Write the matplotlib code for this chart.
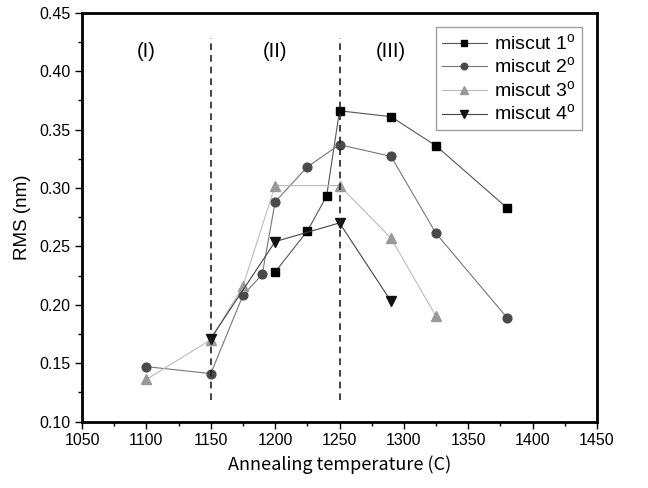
import matplotlib
matplotlib.use('Agg')
import matplotlib.pyplot as plt
from matplotlib.ticker import MultipleLocator

plt.rcParams['font.family'] = ['Liberation Sans', 'DejaVu Sans']

# 数据
t1 = [1200, 1225, 1240, 1250, 1290, 1325, 1380]
rms1 = [0.228, 0.263, 0.293, 0.366, 0.361, 0.336, 0.283]
t2 = [1100, 1150, 1175, 1190, 1200, 1225, 1250, 1290, 1325, 1380]
rms2 = [0.147, 0.141, 0.208, 0.226, 0.288, 0.318, 0.337, 0.327, 0.261, 0.189]
t3 = [1100, 1150, 1175, 1200, 1250, 1290, 1325]
rms3 = [0.136, 0.170, 0.216, 0.302, 0.302, 0.257, 0.190]
t4 = [1150, 1200, 1250, 1290]
rms4 = [0.171, 0.254, 0.270, 0.203]
labels = ['miscut 1$^{\\mathregular{o}}$', 'miscut 2$^{\\mathregular{o}}$',
          'miscut 3$^{\\mathregular{o}}$', 'miscut 4$^{\\mathregular{o}}$']
regions = ['(I)', '(II)', '(III)']
region_x = [1100, 1200, 1290]
bounds = [1150, 1250]

fig = plt.figure(figsize=(6.48, 4.88), dpi=100)
ax = fig.add_axes([82/648, 1-421.5/488, 515/648, 408.8/488])

ax.plot(t1, rms1, '-', color='#555555', lw=0.8, marker='s', ms=5.8, mfc='black', mec='black', label=labels[0])
ax.plot(t2, rms2, '-', color='#777777', lw=0.8, marker='o', ms=6.3, mfc='#4a4a4a', mec='#4a4a4a', label=labels[1])
ax.plot(t3, rms3, '-', color='#bbbbbb', lw=0.8, marker='^', ms=6.8, mfc='#999999', mec='#999999', label=labels[2])
ax.plot(t4, rms4, '-', color='#444444', lw=0.8, marker='v', ms=6.8, mfc='#111111', mec='#111111', label=labels[3])

for b in bounds:
    ax.plot([b, b], [0.118, 0.428], '--', color='#222222', lw=1.2, dashes=(4, 3))
for r, x in zip(regions, region_x):
    ax.text(x, 0.417, r, ha='center', va='center', fontsize=14.5)

ax.set_xlim(1050, 1450)
ax.set_ylim(0.10, 0.45)
ax.xaxis.set_major_locator(MultipleLocator(50))
ax.xaxis.set_minor_locator(MultipleLocator(25))
ax.yaxis.set_major_locator(MultipleLocator(0.05))
ax.yaxis.set_minor_locator(MultipleLocator(0.025))
ax.yaxis.set_major_formatter(plt.FormatStrFormatter('%.2f'))
ax.tick_params(which='major', direction='out', length=5, width=1, labelsize=11.5)
ax.tick_params(which='minor', direction='out', length=3, width=1)
for s in ax.spines.values():
    s.set_linewidth(2)

ax.set_xlabel('Annealing temperature (C)', fontsize=13, family=['Noto Sans CJK JP', 'DejaVu Sans'], labelpad=5)
ax.set_ylabel('RMS (nm)', fontsize=13.5, labelpad=6)

leg = ax.legend(loc='upper right', fontsize=14, frameon=True, fancybox=False, markerscale=0.75,
                handlelength=2.3, handletextpad=0.4, borderpad=0.3, labelspacing=0.15,
                borderaxespad=0, bbox_to_anchor=(0.971, 0.965))
leg.get_frame().set_edgecolor('#888888')
leg.get_frame().set_linewidth(1)

fig.savefig('out.png', dpi=100)
